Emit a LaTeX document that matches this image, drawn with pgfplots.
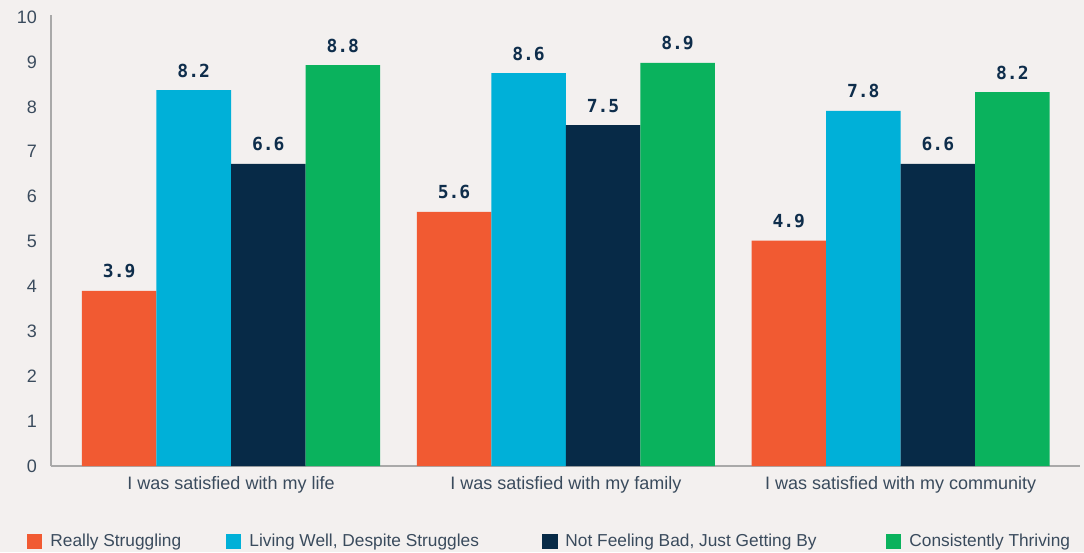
\documentclass[border=0pt]{standalone}
\usepackage{fontspec}
\setmainfont{Liberation Sans}
\newfontfamily\valfont{DejaVu Sans Mono}
\usepackage{pgfplots}
\pgfplotsset{compat=1.18}
\definecolor{bgc}{HTML}{F3F0EF}
\definecolor{axc}{HTML}{A9A9A9}
\definecolor{labc}{HTML}{3A4B5D}
\definecolor{valc}{HTML}{0E2D4B}
\definecolor{cRS}{HTML}{F15A32}
\definecolor{cLW}{HTML}{00B0D8}
\definecolor{cNF}{HTML}{072A47}
\definecolor{cCT}{HTML}{0AB25D}
\begin{document}
\begin{tikzpicture}[x=1pt,y=1pt]
\fill[bgc] (0,0) rectangle (1084,552);
\useasboundingbox (0,0) rectangle (1084,552);
\begin{axis}[
  at={(51pt,86pt)}, anchor=south west,
  scale only axis, width=1029pt, height=451.2pt,
  xmin=-0.5377, xmax=2.536, ymin=0, ymax=10.05,
  ybar=0pt, bar width=0.2226,
  axis x line*=bottom, axis y line*=left,
  axis line style={-, draw=axc, line width=2pt},
  xtick={0,1,2},
  xticklabels={I was satisfied with my life, I was satisfied with my family, I was satisfied with my community},
  ytick={0,1,...,10},
  major tick length=0pt, tick style={draw=none},
  /pgf/number format/assume math mode=true,
  tick label style={font=\fontsize{18}{21}\selectfont, text=labc, inner sep=0pt},
  yticklabel style={anchor=east, xshift=-14pt},
  xticklabel style={anchor=north, yshift=-10pt},
  nodes near coords, point meta=explicit symbolic,
  nodes near coords style={anchor=south, inner sep=0pt, yshift=12.5pt,
    font=\valfont\bfseries\fontsize{18}{20}\selectfont, text=valc},
  legend columns=4,
  legend image code/.code={\fill[#1] (0pt,-7.5pt) rectangle (15pt,7.5pt);},
  legend style={at={(0,0)}, anchor=west, xshift=-23.5pt, yshift=-75pt,
    draw=none, fill=none, inner sep=0pt, outer sep=0pt,
    font=\fontsize{17.3}{20}\selectfont, text=labc,
    nodes={inner sep=0pt},
    /tikz/every odd column/.append style={column sep=8pt},
    /tikz/every even column/.append style={column sep=0pt}},
  legend cell align=left,
]
\addplot[fill=cRS, draw=none] coordinates {(0,3.90) [3.9] (1,5.66) [5.6] (2,5.02) [4.9]};
\addplot[fill=cLW, draw=none] coordinates {(0,8.37) [8.2] (1,8.75) [8.6] (2,7.91) [7.8]};
\addplot[fill=cNF, draw=none] coordinates {(0,6.73) [6.6] (1,7.59) [7.5] (2,6.73) [6.6]};
\addplot[fill=cCT, draw=none] coordinates {(0,8.93) [8.8] (1,8.98) [8.9] (2,8.33) [8.2]};
\legend{\makebox[176pt][l]{Really Struggling},
  \makebox[293pt][l]{Living Well, Despite Struggles},
  \makebox[321pt][l]{Not Feeling Bad, Just Getting By},
  Consistently Thriving}
\end{axis}
\end{tikzpicture}
\end{document}
